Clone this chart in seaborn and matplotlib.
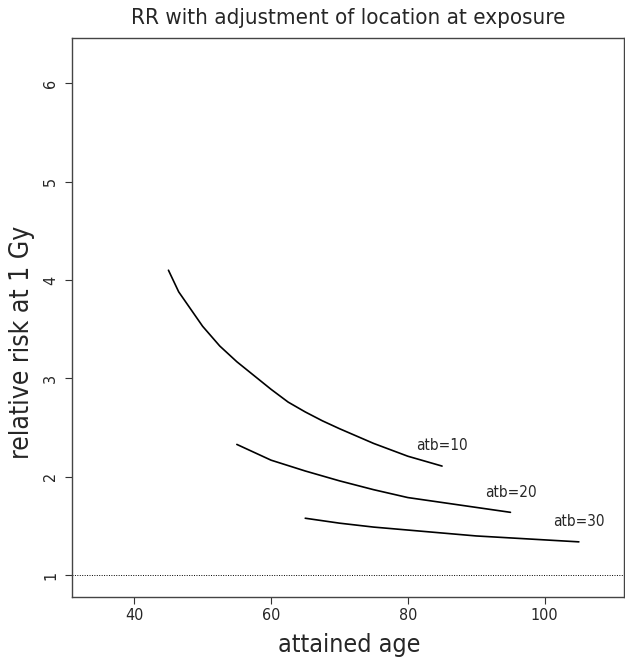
import pandas as pd
import matplotlib
matplotlib.use("Agg")
import matplotlib.pyplot as plt
import seaborn as sns

# values
age_atb10 = [45, 46.5, 48.5, 50, 52.5, 55, 57.5, 60, 62.5, 65, 67.5, 70,
             75, 80, 85]
rr_atb10 = [4.10, 3.88, 3.68, 3.53, 3.33, 3.17, 3.03, 2.89, 2.76, 2.66,
            2.57, 2.49, 2.34, 2.21, 2.11]

age_atb20 = [55, 60, 65, 70, 75, 80, 85, 90, 95]
rr_atb20 = [2.33, 2.17, 2.06, 1.96, 1.87, 1.79, 1.74, 1.69, 1.64]

age_atb30 = [65, 70, 75, 80, 85, 90, 95, 100, 105]
rr_atb30 = [1.58, 1.53, 1.49, 1.46, 1.43, 1.40, 1.38, 1.36, 1.34]

labels = ["atb=10", "atb=20", "atb=30"]
x_ticks = [40, 60, 80, 100]
y_ticks = [1, 2, 3, 4, 5, 6]

frames = []
for lab, ages, rrs in zip(labels, [age_atb10, age_atb20, age_atb30],
                          [rr_atb10, rr_atb20, rr_atb30]):
    frames.append(pd.DataFrame({"age": ages, "rr": rrs, "atb": lab}))
df = pd.concat(frames, ignore_index=True)

sns.set_style("ticks")
plt.rcParams["font.family"] = ["DejaVu Sans"]
plt.rcParams["font.stretch"] = "condensed"

fig = plt.figure(figsize=(6.25, 6.6), dpi=100)
ax = fig.add_axes([0.1152, 0.0955, 0.8832, 0.847])

sns.lineplot(data=df, x="age", y="rr", hue="atb", palette=["black"] * 3,
             linewidth=1.2, legend=False, ax=ax)

ax.axhline(1, color="black", linestyle=(0, (1, 1.5)), linewidth=0.7)

# curve labels placed just above the end of each line
for lab, ages, rrs in zip(labels, [age_atb10, age_atb20, age_atb30],
                          [rr_atb10, rr_atb20, rr_atb30]):
    ax.text(ages[-1], rrs[-1] + 0.13, lab, ha="center", va="bottom",
            fontsize=11)

ax.set_xlim(30.9, 111.6)
ax.set_ylim(0.78, 6.46)
ax.set_xticks(x_ticks)
ax.set_yticks(y_ticks)
ax.set_yticklabels([str(v) for v in y_ticks], rotation=90, va="center")
ax.tick_params(labelsize=11.5, length=5, width=0.8, color="#333333", pad=3)
ax.tick_params(axis="y", pad=5)

for s in ax.spines.values():
    s.set_color("#444444")
    s.set_linewidth(1.0)

ax.set_xlabel("attained age", fontsize=18, va="center")
ax.set_ylabel("relative risk at 1 Gy", fontsize=19, va="center")
ax.xaxis.set_label_coords(0.503, -0.086)
ax.yaxis.set_label_coords(-0.09, 0.456)
ax.set_title("RR with adjustment of location at exposure", fontsize=16, pad=10)

fig.savefig("out.png", dpi=100)
